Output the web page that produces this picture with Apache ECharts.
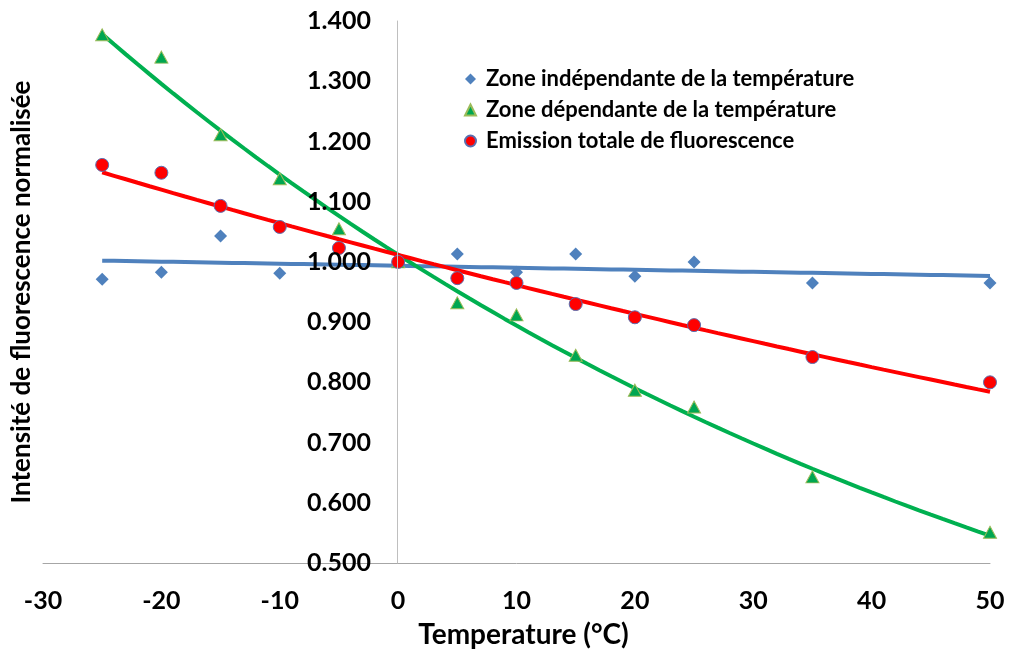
<!DOCTYPE html>
<html>
<head>
    <meta charset="utf-8">
    <title>Intensité de fluorescence</title>
    <script src="https://cdn.jsdelivr.net/npm/echarts@6/dist/echarts.min.js"></script>
    <style>
        body { margin: 0; background: #fff; }
        #chart { width: 1011px; height: 655px; }
    </style>
</head>
<body>
    <div id="chart"></div>

    <script type="text/javascript">
        // temperatures (°C)
        var temps = [-25, -20, -15, -10, -5, 0, 5, 10, 15, 20, 25, 35, 50];
        // values (null = no point)
        var zoneIndep = [0.971, 0.983, 1.043, 0.981, null, 1.000, 1.013, 0.983, 1.013, 0.976, 1.000, 0.965, 0.965];
        var zoneDep   = [1.377, 1.340, 1.211, 1.138, 1.055, 1.000, 0.932, 0.912, 0.845, 0.787, 0.759, 0.643, 0.551];
        var emission  = [1.161, 1.148, 1.093, 1.058, 1.023, 1.000, 0.973, 0.965, 0.930, 0.908, 0.895, 0.842, 0.800];

        var names = ['Zone indépendante de la température', 'Zone dépendante de la température', 'Emission totale de fluorescence'];

        function pairs(ys) {
            var out = [];
            for (var i = 0; i < temps.length; i++) {
                if (ys[i] != null) out.push([temps[i], ys[i]]);
            }
            return out;
        }

        // least squares fit, like an excel trendline (exp = fit on ln y)
        function fit(ys, expo) {
            var p = pairs(ys), n = p.length, sx = 0, sy = 0, sxx = 0, sxy = 0;
            for (var i = 0; i < n; i++) {
                var x = p[i][0], y = expo ? Math.log(p[i][1]) : p[i][1];
                sx += x; sy += y; sxx += x * x; sxy += x * y;
            }
            var b = (n * sxy - sx * sy) / (n * sxx - sx * sx);
            var a = (sy - b * sx) / n;
            var line = [];
            var x0 = p[0][0], x1 = p[n - 1][0];
            for (var x = x0; x <= x1; x += 1) {
                var v = a + b * x;
                line.push([x, expo ? Math.exp(v) : v]);
            }
            return line;
        }

        var font = 'Lato, "Open Sans", sans-serif';
        var blue = '#4f81bd', green = '#00b050', red = '#ff0000';

        var option = {
            animation: false,
            textStyle: { fontFamily: font },
            grid: { left: 43, right: 21, top: 21, bottom: 92, containLabel: false, outerBoundsMode: 'none' },
            legend: {
                orient: 'vertical',
                left: 459,
                top: 63,
                itemWidth: 11,
                itemHeight: 11,
                itemGap: 9,
                data: names,
                textStyle: { fontFamily: font, fontWeight: 'bold', fontSize: 22, color: '#000', lineHeight: 22, padding: [0, 0, 0, 5] }
            },
            xAxis: {
                type: 'value',
                min: -30, max: 50, interval: 10,
                name: 'Temperature (°C)',
                nameLocation: 'middle',
                nameGap: 58,
                nameTextStyle: { fontFamily: font, fontWeight: 'bold', fontSize: 28, color: '#000', padding: [0, 0, 0, 14] },
                axisLine: { onZero: false, lineStyle: { color: '#a6a6a6', width: 1 } },
                axisTick: { show: false },
                axisLabel: { margin: 25, fontFamily: font, fontWeight: 'bold', fontSize: 25, color: '#000' },
                splitLine: { show: false }
            },
            yAxis: {
                type: 'value',
                min: 0.5, max: 1.4, interval: 0.1,
                z: 10,
                // axis sits at x = 0 (grid left + 354px)
                offset: -354,
                name: 'Intensité de fluorescence normalisée',
                nameLocation: 'middle',
                nameGap: 362,
                nameTextStyle: { fontFamily: font, fontWeight: 'bold', fontSize: 26, color: '#000' },
                axisLine: { show: true, onZero: false, lineStyle: { color: '#bfbfbf', width: 1 } },
                axisTick: { show: false },
                axisLabel: {
                    margin: 26, fontFamily: font, fontWeight: 'bold', fontSize: 25, color: '#000',
                    formatter: function (v) { return v.toFixed(3); }
                },
                splitLine: { show: false }
            },
            series: [
                {
                    name: 'trend1', type: 'line', data: fit(zoneIndep, false), showSymbol: false, z: 3,
                    lineStyle: { color: blue, width: 4 }, silent: true
                },
                {
                    name: 'trend2', type: 'line', data: fit(zoneDep, true), showSymbol: false, z: 3,
                    lineStyle: { color: green, width: 4 }, silent: true
                },
                {
                    name: 'trend3', type: 'line', data: fit(emission, true), showSymbol: false, z: 3,
                    lineStyle: { color: red, width: 4 }, silent: true
                },
                {
                    name: names[0], type: 'scatter', data: pairs(zoneIndep), z: 4,
                    symbol: 'diamond', symbolSize: 13,
                    itemStyle: { color: blue, opacity: 1 }
                },
                {
                    name: names[1], type: 'scatter', data: pairs(zoneDep), z: 4,
                    symbol: 'triangle', symbolSize: [13, 12],
                    itemStyle: { color: '#00a651', borderColor: '#9bbb59', borderWidth: 1, opacity: 1 }
                },
                {
                    name: names[2], type: 'scatter', data: pairs(emission), z: 4,
                    symbol: 'circle', symbolSize: 13,
                    itemStyle: { color: red, borderColor: '#5a6fb0', borderWidth: 1, opacity: 1 }
                }
            ]
        };

        var chart = echarts.init(document.getElementById('chart'));
        chart.setOption(option);
    </script>
</body>
</html>
